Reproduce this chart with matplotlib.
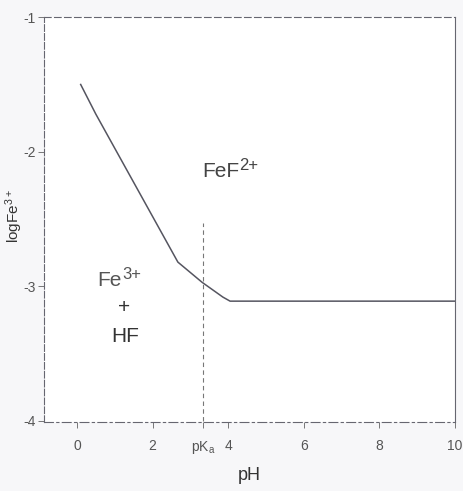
import matplotlib
matplotlib.use("Agg")
import matplotlib.pyplot as plt

plt.rcParams["font.family"] = ["Liberation Sans", "DejaVu Sans"]
plt.rcParams["mathtext.fontset"] = "dejavusans"
plt.rcParams["mathtext.default"] = "regular"

# boundary curve
ph_vals = [0.1, 0.5, 2.67, 3.31, 3.86, 4.05, 10.0]
logfe_vals = [-1.50, -1.72, -2.82, -2.97, -3.08, -3.11, -3.11]

pka = 3.33
xtick_pos = [0, 2, pka, 4, 6, 8, 10]
xtick_labels = ["0", "2", "pK$_a$", "4", "6", "8", "10"]
ytick_pos = [-4, -3, -2, -1]
ytick_labels = ["-4", "-3", "-2", "-1"]

fig = plt.figure(figsize=(4.63, 4.91), dpi=100, facecolor="#f7f7f9")
ax = fig.add_axes([0.095, 0.140, 0.888, 0.825])
ax.set_facecolor("white")

ax.plot(ph_vals, logfe_vals, color="#555560", lw=1.1)
ax.plot([pka, pka], [-4.0, -2.53], color="#777777", lw=0.8, ls=(0, (4, 3)))

ax.set_xlim(-0.87, 10)
ax.set_ylim(-4.01, -1)

ax.set_xticks(xtick_pos)
ax.set_xticklabels(xtick_labels)
ax.set_yticks(ytick_pos)
ax.set_yticklabels(ytick_labels)
ax.tick_params(direction="out", length=4, width=0.7, colors="#777777",
               labelcolor="#555555", labelsize=10)
ax.tick_params(axis="x", pad=8)
ax.tick_params(axis="y", pad=2)

for side, ls in [("top", (0, (6, 3))), ("bottom", (0, (8, 3, 2, 3))),
                 ("left", (0, (6, 2))), ("right", "-")]:
    ax.spines[side].set_color("#666670")
    ax.spines[side].set_linewidth(0.8)
    ax.spines[side].set_linestyle(ls)

t1 = ax.text(3.81, -2.15, "FeF", fontsize=15, color="#444444",
             ha="center", va="center")
ax.annotate("2+", xy=(1.0, 0.82), xycoords=t1, xytext=(0, 0),
            textcoords="offset points", ha="left", va="center",
            fontsize=12, color="#444444")
t2 = ax.text(0.87, -2.96, "Fe", fontsize=15, color="#555555",
             ha="center", va="center")
ax.annotate("3+", xy=(1.0, 0.82), xycoords=t2, xytext=(0, 0),
            textcoords="offset points", ha="left", va="center",
            fontsize=12, color="#555555")
ax.text(1.25, -3.16, "+", fontsize=15, color="#333333",
        ha="center", va="center")
ax.text(1.27, -3.37, "HF", fontsize=15, color="#333333",
        ha="center", va="center")

ax.set_xlabel("pH", fontsize=13, color="#333333", labelpad=8)
ax.set_ylabel("logFe$^{3+}$", fontsize=11, color="#333333")
ax.yaxis.set_label_coords(-0.045, 0.51)

fig.savefig("out.png", dpi=100, facecolor=fig.get_facecolor())
